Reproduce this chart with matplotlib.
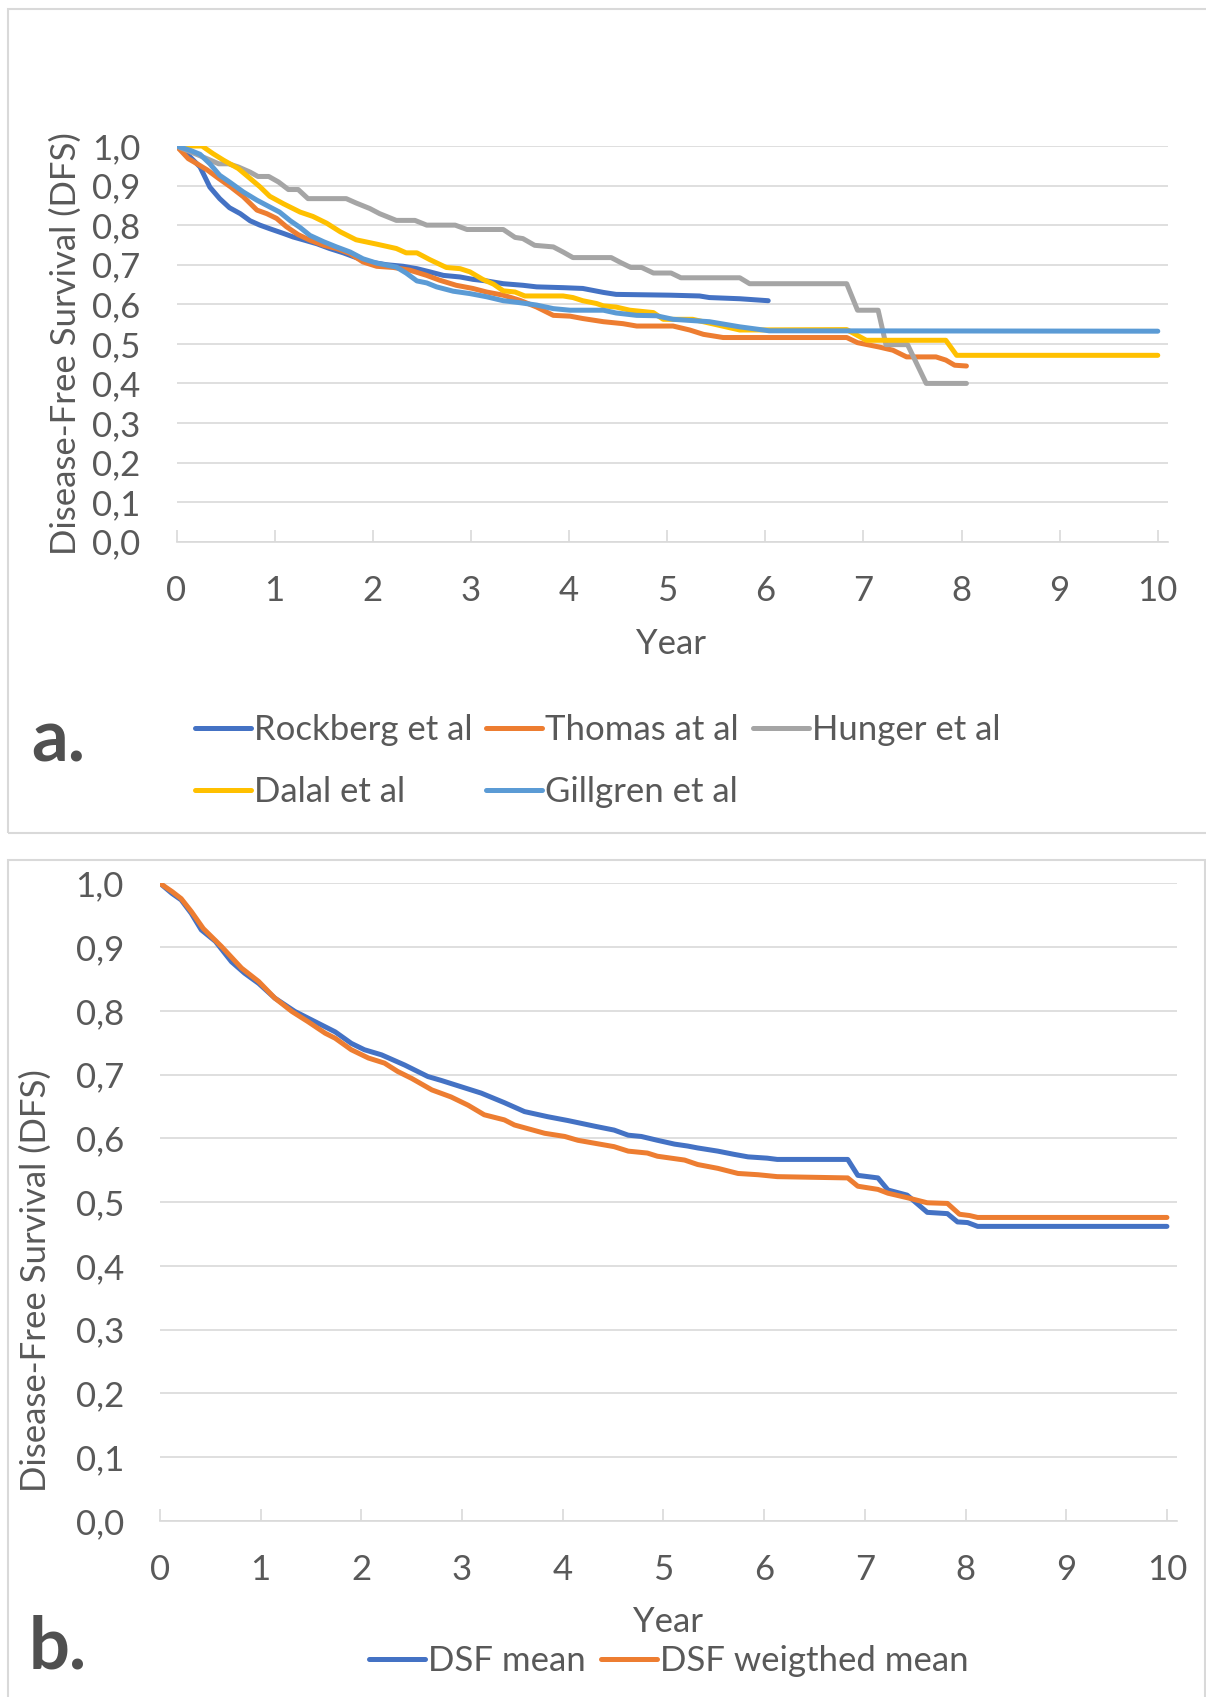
import numpy as np
import matplotlib.pyplot as plt
from matplotlib.patches import Rectangle

plt.rcParams['font.family'] = ['Lato', 'DejaVu Sans']

# a. Kaplan-Meier curves per study (year, DFS)
rockberg_x = [0, 0.14, 0.24, 0.34, 0.44, 0.54, 0.65, 0.75, 0.85, 0.95, 1.09, 1.19, 1.29, 1.43, 1.56, 1.70, 1.83, 1.97,
              2.14, 2.31, 2.45, 2.58, 2.72, 2.89, 3.02, 3.16, 3.33, 3.53, 3.67, 3.94, 4.14, 4.35, 4.48, 5.03, 5.33,
              5.43, 5.74, 6.03]
rockberg_y = [1.0, 0.972, 0.947, 0.896, 0.867, 0.844, 0.829, 0.811, 0.800, 0.791, 0.779, 0.770, 0.763, 0.753, 0.741,
              0.730, 0.718, 0.707, 0.700, 0.696, 0.690, 0.682, 0.673, 0.669, 0.663, 0.659, 0.652, 0.648, 0.644, 0.642,
              0.640, 0.630, 0.625, 0.623, 0.621, 0.617, 0.614, 0.609]

thomas_x = [0, 0.12, 0.21, 0.31, 0.43, 0.55, 0.68, 0.82, 0.92, 1.02, 1.12, 1.24, 1.36, 1.50, 1.63, 1.77, 1.90, 2.04,
            2.21, 2.38, 2.55, 2.68, 2.85, 3.02, 3.16, 3.33, 3.50, 3.67, 3.84, 4.01, 4.14, 4.35, 4.55, 4.69, 5.06, 5.23,
            5.37, 5.57, 6.83, 6.94, 7.16, 7.30, 7.44, 7.74, 7.84, 7.93, 8.05]
thomas_y = [1.0, 0.968, 0.955, 0.940, 0.918, 0.897, 0.872, 0.838, 0.829, 0.817, 0.796, 0.776, 0.762, 0.749, 0.741,
            0.728, 0.707, 0.696, 0.693, 0.686, 0.673, 0.661, 0.648, 0.640, 0.631, 0.623, 0.610, 0.593, 0.572, 0.570,
            0.564, 0.556, 0.551, 0.545, 0.545, 0.535, 0.524, 0.516, 0.516, 0.503, 0.492, 0.484, 0.467, 0.467, 0.459,
            0.446, 0.444]

hunger_x = [0, 0.31, 0.43, 0.53, 0.63, 0.75, 0.83, 0.94, 1.04, 1.14, 1.24, 1.34, 1.73, 1.83, 1.97, 2.07, 2.24, 2.43,
            2.55, 2.84, 2.96, 3.33, 3.45, 3.53, 3.65, 3.84, 3.94, 4.04, 4.43, 4.53, 4.63, 4.74, 4.86, 5.04, 5.14, 5.74,
            5.84, 6.83, 6.94, 7.15, 7.23, 7.45, 7.64, 8.05]
hunger_y = [1.0, 0.968, 0.955, 0.955, 0.947, 0.934, 0.923, 0.923, 0.909, 0.890, 0.890, 0.867, 0.867, 0.856, 0.842,
            0.829, 0.812, 0.812, 0.800, 0.800, 0.789, 0.789, 0.769, 0.766, 0.749, 0.745, 0.732, 0.718, 0.718, 0.705,
            0.693, 0.693, 0.679, 0.679, 0.667, 0.667, 0.652, 0.652, 0.585, 0.585, 0.498, 0.498, 0.400, 0.400]

dalal_x = [0, 0.26, 0.37, 0.48, 0.63, 0.75, 0.85, 0.95, 1.09, 1.26, 1.39, 1.53, 1.67, 1.83, 2.04, 2.24, 2.34, 2.45,
           2.58, 2.75, 2.89, 2.99, 3.12, 3.23, 3.33, 3.45, 3.55, 3.94, 4.04, 4.14, 4.28, 4.35, 4.48, 4.62, 4.86, 4.96,
           5.26, 5.74, 6.83, 7.03, 7.84, 7.95, 10.0]
dalal_y = [1.0, 1.0, 0.981, 0.964, 0.943, 0.918, 0.897, 0.873, 0.854, 0.833, 0.822, 0.805, 0.783, 0.763, 0.752, 0.741,
           0.730, 0.730, 0.713, 0.693, 0.690, 0.682, 0.663, 0.651, 0.634, 0.631, 0.621, 0.621, 0.617, 0.609, 0.602,
           0.596, 0.593, 0.585, 0.579, 0.562, 0.562, 0.535, 0.536, 0.509, 0.509, 0.471, 0.471]

gillgren_x = [0, 0.14, 0.24, 0.34, 0.44, 0.54, 0.68, 0.82, 0.95, 1.05, 1.16, 1.26, 1.36, 1.50, 1.63, 1.77, 1.90, 2.04,
              2.24, 2.34, 2.45, 2.55, 2.65, 2.82, 2.99, 3.16, 3.33, 3.50, 3.67, 3.84, 4.01, 4.35, 4.48, 4.69, 4.89,
              5.06, 5.43, 5.74, 6.04, 10.0]
gillgren_y = [1.0, 0.989, 0.979, 0.955, 0.926, 0.909, 0.884, 0.863, 0.846, 0.833, 0.811, 0.794, 0.774, 0.758, 0.745,
              0.732, 0.715, 0.704, 0.694, 0.679, 0.659, 0.654, 0.644, 0.633, 0.627, 0.619, 0.609, 0.604, 0.598, 0.589,
              0.585, 0.585, 0.578, 0.572, 0.571, 0.562, 0.556, 0.543, 0.533, 0.532]

# b. pooled curves
mean_x = [0, 0.12, 0.21, 0.31, 0.41, 0.55, 0.71, 0.84, 0.98, 1.14, 1.34, 1.54, 1.74, 1.90, 2.03, 2.20, 2.43, 2.66,
          2.79, 3.03, 3.19, 3.42, 3.62, 3.85, 4.05, 4.32, 4.51, 4.65, 4.78, 4.94, 5.11, 5.24, 5.34, 5.54, 5.70, 5.84,
          6.03, 6.13, 6.83, 6.93, 7.13, 7.23, 7.42, 7.62, 7.82, 7.92, 8.02, 8.12, 10.0]
mean_y = [1.0, 0.984, 0.974, 0.953, 0.927, 0.909, 0.877, 0.859, 0.843, 0.820, 0.799, 0.783, 0.767, 0.749, 0.739, 0.731,
          0.715, 0.697, 0.691, 0.679, 0.671, 0.656, 0.642, 0.634, 0.628, 0.619, 0.613, 0.605, 0.603, 0.597, 0.591,
          0.588, 0.585, 0.580, 0.575, 0.571, 0.569, 0.567, 0.567, 0.542, 0.538, 0.519, 0.511, 0.484, 0.482, 0.469,
          0.468, 0.462, 0.462]

wmean_x = [0, 0.12, 0.21, 0.31, 0.43, 0.61, 0.81, 0.98, 1.14, 1.31, 1.47, 1.64, 1.74, 1.90, 2.07, 2.23, 2.36, 2.50,
           2.70, 2.89, 3.06, 3.22, 3.42, 3.52, 3.82, 4.02, 4.15, 4.51, 4.65, 4.84, 4.94, 5.21, 5.34, 5.54, 5.74, 5.94,
           6.13, 6.83, 6.93, 7.13, 7.23, 7.42, 7.62, 7.82, 7.94, 8.04, 8.12, 10.0]
wmean_y = [1.0, 0.987, 0.976, 0.956, 0.929, 0.901, 0.867, 0.846, 0.820, 0.799, 0.783, 0.765, 0.757, 0.739, 0.726,
           0.718, 0.705, 0.694, 0.676, 0.665, 0.652, 0.637, 0.629, 0.621, 0.608, 0.603, 0.597, 0.587, 0.580, 0.577,
           0.572, 0.566, 0.559, 0.553, 0.545, 0.543, 0.540, 0.538, 0.525, 0.520, 0.514, 0.507, 0.499, 0.498, 0.481,
           0.479, 0.476, 0.476]

studies = [
    ('Rockberg et al', rockberg_x, rockberg_y, '#4472C4'),
    ('Thomas at al', thomas_x, thomas_y, '#ED7D31'),
    ('Hunger et al', hunger_x, hunger_y, '#A5A5A5'),
    ('Dalal et al', dalal_x, dalal_y, '#FFC000'),
    ('Gillgren et al', gillgren_x, gillgren_y, '#5B9BD5'),
]
pooled = [
    ('DSF mean', mean_x, mean_y, '#4472C4'),
    ('DSF weigthed mean', wmean_x, wmean_y, '#ED7D31'),
]

x_ticks = np.arange(0, 11, 1)
y_ticks = np.round(np.arange(0, 1.01, 0.1), 1)
y_ticklabels = [f'{v:.1f}'.replace('.', ',') for v in y_ticks]

TXT = '#595959'
GRID = '#D9D9D9'
FS = 25

W, H = 1206, 1697
fig = plt.figure(figsize=(W / 100, H / 100), dpi=100)


def px_axes(left, top, right, bottom):
    return fig.add_axes([left / W, 1 - bottom / H, (right - left) / W, (bottom - top) / H])


def style(ax, ylab_xy, xlab_xy):
    ax.set_xlim(0, 10.1)
    ax.set_ylim(0, 1.0)
    ax.set_xticks(x_ticks)
    ax.set_yticks(y_ticks)
    ax.set_yticklabels(y_ticklabels)
    ax.grid(axis='y', color=GRID, linewidth=1.2)
    ax.set_axisbelow(True)
    for s in ['left', 'right', 'top']:
        ax.spines[s].set_visible(False)
    ax.spines['bottom'].set_color(GRID)
    ax.spines['bottom'].set_linewidth(1.2)
    ax.tick_params(axis='x', direction='in', length=9, width=1.2, color=GRID,
                   labelsize=FS, labelcolor=TXT, pad=24)
    ax.tick_params(axis='y', length=0, labelsize=FS, labelcolor=TXT, pad=26)
    ax.set_ylabel('Disease-Free Survival (DFS)', fontsize=FS, color=TXT)
    ax.yaxis.set_label_coords(*ylab_xy)
    ax.yaxis.label.set_va('center')
    ax.set_xlabel('Year', fontsize=FS, color=TXT)
    ax.xaxis.set_label_coords(*xlab_xy)
    ax.xaxis.label.set_va('center')


# panel frames
fig.patches.append(Rectangle((7.5 / W, 1 - 832.5 / H), 1.2, (832.5 - 8.5) / H, transform=fig.transFigure,
                             fill=False, edgecolor=GRID, linewidth=1.5))
fig.patches.append(Rectangle((7.5 / W, -0.1), (1204.5 - 7.5) / W, 0.1 + 1 - 860.5 / H, transform=fig.transFigure,
                             fill=False, edgecolor=GRID, linewidth=1.5))

# a.
ax1 = px_axes(176.5, 146, 1167.6, 541.7)
for name, xs, ys, c in studies:
    ax1.plot(xs, ys, color=c, linewidth=3.6, label=name, solid_capstyle='round', solid_joinstyle='round')
style(ax1, (-0.1115, 0.5), (0.499, -0.2585))

h, l = ax1.get_legend_handles_labels()
order = [0, 3, 1, 4, 2]
fig.legend([h[i] for i in order], [l[i] for i in order], loc='center left',
           bbox_to_anchor=(195 / W, 1 - 761 / H), ncol=3, frameon=False, fontsize=FS,
           labelcolor=TXT, handlelength=1.6, handletextpad=0.1, columnspacing=0.4,
           labelspacing=0.85, borderpad=0, borderaxespad=0)
fig.text(58 / W, 1 - 741 / H, 'a.', fontsize=52, fontweight='bold', color='#505050', ha='center', va='center')

# b.
ax2 = px_axes(160, 883.3, 1177, 1521)
for name, xs, ys, c in pooled:
    ax2.plot(xs, ys, color=c, linewidth=3.6, label=name, solid_capstyle='round', solid_joinstyle='round')
style(ax2, (-0.1219, 0.3764), (0.4995, -0.1584))

fig.legend(loc='center left', bbox_to_anchor=(369 / W, 1 - 1661 / H), ncol=2, frameon=False,
           fontsize=FS, labelcolor=TXT, handlelength=1.6, handletextpad=0.1, columnspacing=0.45,
           borderpad=0, borderaxespad=0, handles=ax2.get_legend_handles_labels()[0])
fig.text(58 / W, 1 - 1648 / H, 'b.', fontsize=52, fontweight='bold', color='#505050', ha='center', va='center')

fig.savefig('out.png', dpi=100)
